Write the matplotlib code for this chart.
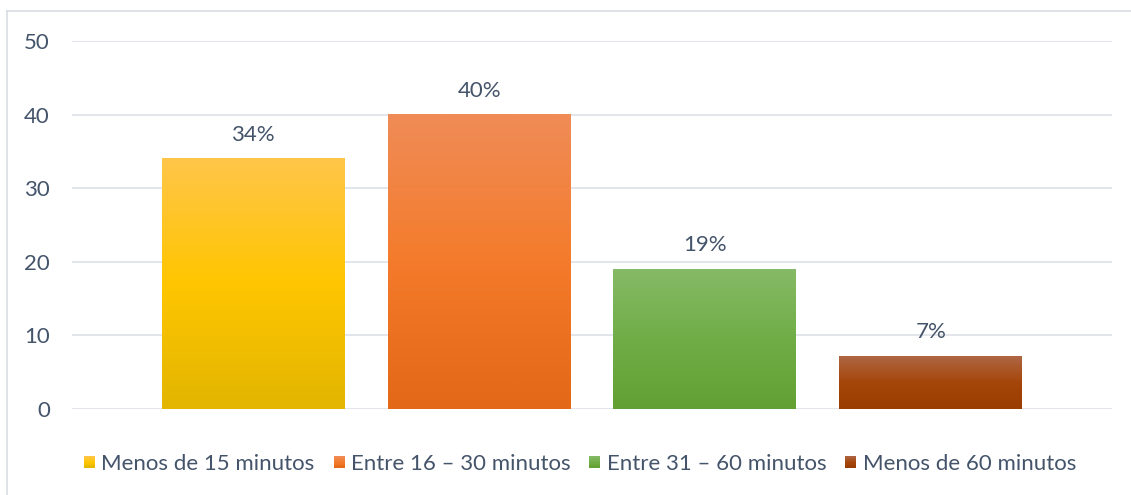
import matplotlib
matplotlib.use("Agg")
import matplotlib.pyplot as plt
import numpy as np
from matplotlib.colors import LinearSegmentedColormap
from matplotlib.patches import Rectangle
from matplotlib.legend_handler import HandlerBase
from matplotlib.lines import Line2D

# ---- data ----
series = ["Menos de 15 minutos", "Entre 16 \u2013 30 minutos",
          "Entre 31 \u2013 60 minutos", "Menos de 60 minutos"]
values = [34, 40, 19, 7.2]
labels = ["34%", "40%", "19%", "7%"]
yticks = [0, 10, 20, 30, 40, 50]

# gradient colours (top, middle, bottom)
grads = [
    ("#FFC54A", "#FFC600", "#E2B500"),
    ("#F08C57", "#F47B2B", "#E36817"),
    ("#86BA66", "#70AD47", "#62A033"),
    ("#AE6644", "#A5460A", "#993D02"),
]

TXT = "#44546A"
plt.rcParams["font.family"] = ["Lato", "DejaVu Sans"]

fig = plt.figure(figsize=(11.31, 4.95), dpi=100)
W, H = 1131, 495
ax = fig.add_axes([72 / W, 1 - 409 / H, (1112 - 72) / W, (409 - 41) / H])

n = len(values)
xpos = np.arange(n)
width = 183 / 226

for i, (x, v) in enumerate(zip(xpos, values)):
    top, mid, bot = grads[i]
    cmap = LinearSegmentedColormap.from_list("g%d" % i, [bot, mid, top])
    grad = np.linspace(0, 1, 256).reshape(-1, 1)
    ax.imshow(grad, cmap=cmap, origin="lower", aspect="auto",
              extent=(x - width / 2, x + width / 2, 0, v), zorder=3,
              interpolation="bilinear")
    ax.annotate(labels[i], (x, v), xytext=(0, 10), textcoords="offset points",
                ha="center", va="bottom", fontsize=16, color=TXT, zorder=4)

ax.set_xlim(-0.803, n - 1 + 0.803)
ax.set_ylim(0, 50)
ax.set_yticks(yticks)
ax.set_xticks([])
for s in ax.spines.values():
    s.set_visible(False)
ax.grid(axis="y", color="#DDE1E6", linewidth=1.2, zorder=0)
ax.set_axisbelow(True)
ax.tick_params(axis="y", length=0, pad=16, labelsize=16, labelcolor=TXT)

# legend with gradient squares
class GradHandler(HandlerBase):
    def __init__(self, cols):
        super().__init__()
        self.cols = cols
    def create_artists(self, legend, orig_handle, xdescent, ydescent,
                       width, height, fontsize, trans):
        top, mid, bot = self.cols
        cmap = LinearSegmentedColormap.from_list("lg", [bot, mid, top])
        s = min(width, height) * 1.0
        x0 = -xdescent + (width - s) / 2
        y0 = -ydescent + (height - s) / 2
        arts = []
        k = 8
        for j in range(k):
            r = Rectangle((x0, y0 + s * j / k), s, s / k + 0.2,
                          facecolor=cmap((j + 0.5) / k), edgecolor="none",
                          transform=trans)
            arts.append(r)
        return arts

handles = [Line2D([], []) for _ in series]
hmap = {h: GradHandler(grads[i]) for i, h in enumerate(handles)}
fig.legend(handles, series, handler_map=hmap, loc="center",
           bbox_to_anchor=(580 / W, 1 - 464 / H), ncol=4, frameon=False,
           fontsize=16, labelcolor=TXT, handlelength=0.5, handleheight=0.5,
           handletextpad=0.28, columnspacing=0.85)

# outer chart frame (top and left visible)
fig.add_artist(Line2D([7 / W, 7 / W], [0, 1 - 11 / H], transform=fig.transFigure,
                      color="#D9DDE3", linewidth=1.2))
fig.add_artist(Line2D([7 / W, 1], [1 - 11 / H, 1 - 11 / H], transform=fig.transFigure,
                      color="#D9DDE3", linewidth=1.2))

fig.savefig("out.png", dpi=100)
